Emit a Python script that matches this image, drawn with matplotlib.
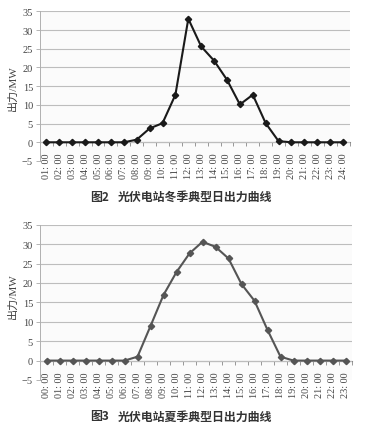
import numpy as np
import matplotlib
matplotlib.use("Agg")
import matplotlib.pyplot as plt

# ==============================
# Datos
# ==============================
horas_invierno = ["%02d: 00" % h for h in range(1, 25)]
horas_verano = ["%02d: 00" % h for h in range(0, 24)]

invierno = [0, 0, 0, 0, 0, 0, 0, 0.7, 3.7, 5.1, 12.7, 33.0, 25.6, 21.8,
            16.7, 10.1, 12.7, 5.1, 0.3, 0, 0, 0, 0, 0]
verano = [0, 0, 0, 0, 0, 0, 0, 1.0, 8.9, 16.9, 22.8, 27.6, 30.6, 29.3,
          26.3, 19.7, 15.4, 7.9, 1.0, 0, 0, 0, 0, 0]

fig_1, titulo_1 = "图2", "光伏电站冬季典型日出力曲线"
fig_2, titulo_2 = "图3", "光伏电站夏季典型日出力曲线"
ylabel = "出力/MW"
yticks = [-5, 0, 5, 10, 15, 20, 25, 30, 35]

serif = ["Liberation Serif", "Noto Sans CJK SC"]
cjk = ["Noto Sans CJK SC", "DejaVu Sans"]

W, H = 374, 427
fig = plt.figure(figsize=(W / 100, H / 100), dpi=100)
fig.patch.set_facecolor("white")


def panel(rect, labels, values, color, num, titulo, ytit, ylab_y):
    ax = fig.add_axes(rect)
    ax.set_facecolor("#fbfbfb")
    x = np.arange(len(labels))
    ax.plot(x, values, color=color, lw=1.5, marker="D", ms=3.2, zorder=3)
    ax.set_xlim(-0.5, len(labels) - 0.5)
    ax.set_ylim(-5, 35)
    ax.set_yticks(yticks)
    ax.set_yticklabels([("−5" if t < 0 else str(t)) for t in yticks],
                       family=serif, fontsize=7.5, color="#444444")
    for t in yticks[1:]:
        ax.axhline(t, color="#bdbdbd", lw=0.8, zorder=1)
    ax.tick_params(axis="y", direction="out", length=3, width=0.6,
                   color="#aaaaaa", pad=2)
    ax.set_xticks(x)
    ax.set_xticklabels(labels, rotation=90, family=serif, fontsize=7.3,
                       color="#444444")
    ax.tick_params(axis="x", length=0, pad=-6)
    for s in ["top", "right", "bottom"]:
        ax.spines[s].set_visible(False)
    ax.spines["left"].set_color("#b0b0b0")
    ax.spines["left"].set_linewidth(0.7)

    # eje de categorías cruzando en 0
    sec = ax.secondary_xaxis(5 / 40)
    sec.set_xticks(np.arange(len(labels) + 1) - 0.5)
    sec.set_xticklabels([])
    sec.tick_params(direction="out", length=3, width=0.6, color="#888888")
    sec.spines["bottom"].set_color("#888888")
    sec.spines["bottom"].set_linewidth(0.8)

    fig.text(13 / W, 1 - ylab_y / H, ylabel, rotation=90, ha="center",
             va="center", family=serif, fontsize=8, color="#444444")
    fig.text(90 / W, 1 - ytit / H, num, ha="left", va="center",
             family=cjk, fontsize=8.6, fontweight="bold", color="#333333")
    fig.text(118 / W, 1 - ytit / H, titulo, ha="left", va="center",
             family=cjk, fontsize=8.6, fontweight="bold", color="#333333")
    return ax


panel([40 / W, 1 - 162 / H, 309.5 / W, 149.7 / H], horas_invierno, invierno,
      "#1a1a1a", fig_1, titulo_1, 197, 88)
panel([40 / W, 1 - 381 / H, 312 / W, 155.3 / H], horas_verano, verano,
      "#555555", fig_2, titulo_2, 417, 296)

plt.savefig("out.png", dpi=100)
